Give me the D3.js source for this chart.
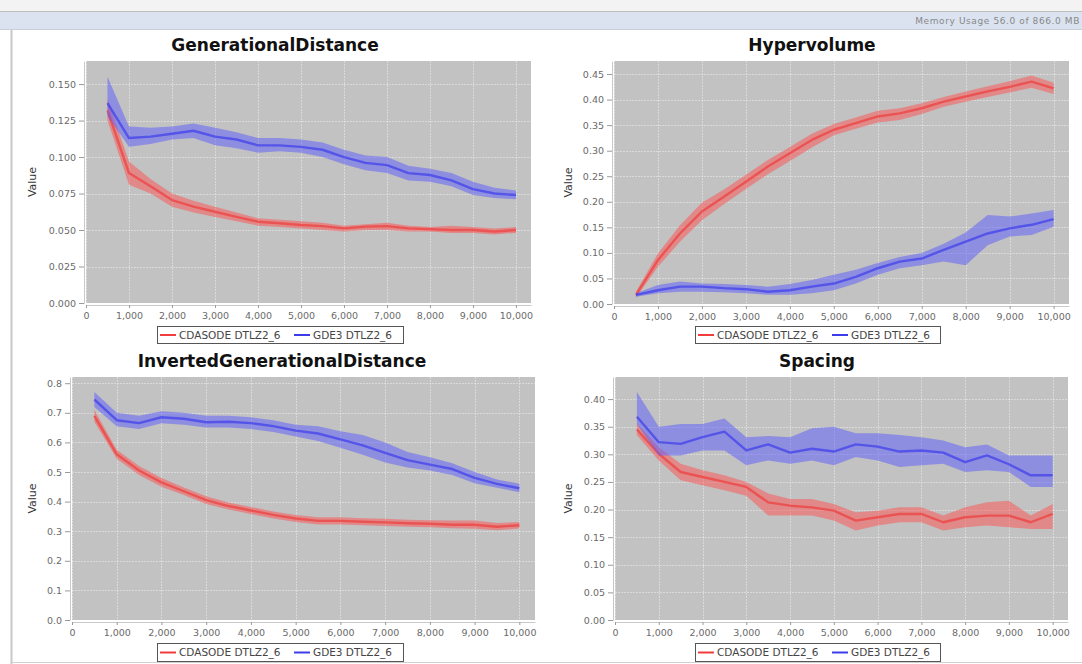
<!DOCTYPE html>
<html>
<head>
<meta charset="utf-8">
<script src="https://cdn.jsdelivr.net/npm/d3@7"></script>
<style>
  html, body { margin: 0; padding: 0; background: #ffffff; }
  svg { display: block; font-family: "DejaVu Sans", sans-serif; }
</style>
</head>
<body>
<svg id="chart" width="1082" height="664"></svg>
<script>
// Evaluation counts (x values shared by all four metrics)
const evaluations = [500, 1000, 1500, 2000, 2500, 3000, 3500, 4000, 4500, 5000,
                     5500, 6000, 6500, 7000, 7500, 8000, 8500, 9000, 9500, 10000];
const xTicks = [0, 1000, 2000, 3000, 4000, 5000, 6000, 7000, 8000, 9000, 10000];
const seriesNames = ["CDASODE DTLZ2_6", "GDE3 DTLZ2_6"];

// GenerationalDistance
const gdCdasMean = [0.132, 0.089, 0.080, 0.0705, 0.066, 0.0625, 0.059, 0.0557, 0.0546, 0.0534,
                    0.0527, 0.0511, 0.0523, 0.0527, 0.0511, 0.0505, 0.050, 0.050, 0.049, 0.050];
const gdCdasHi   = [0.140, 0.097, 0.085, 0.075, 0.070, 0.066, 0.062, 0.058, 0.057, 0.056,
                    0.055, 0.053, 0.054, 0.055, 0.053, 0.052, 0.053, 0.052, 0.051, 0.052];
const gdCdasLo   = [0.125, 0.081, 0.075, 0.066, 0.062, 0.059, 0.056, 0.053, 0.052, 0.051,
                    0.050, 0.049, 0.050, 0.050, 0.049, 0.049, 0.048, 0.048, 0.047, 0.048];
const gdGde3Mean = [0.137, 0.113, 0.114, 0.116, 0.118, 0.114, 0.112, 0.108, 0.108, 0.107,
                    0.105, 0.100, 0.096, 0.0945, 0.089, 0.0877, 0.084, 0.078, 0.075, 0.074];
const gdGde3Hi   = [0.155, 0.121, 0.120, 0.121, 0.123, 0.120, 0.117, 0.113, 0.113, 0.112,
                    0.110, 0.105, 0.101, 0.100, 0.094, 0.092, 0.089, 0.083, 0.079, 0.077];
const gdGde3Lo   = [0.128, 0.107, 0.109, 0.112, 0.113, 0.108, 0.106, 0.103, 0.104, 0.103,
                    0.100, 0.095, 0.091, 0.089, 0.084, 0.083, 0.080, 0.074, 0.072, 0.071];
const gdTicks = [0, 0.025, 0.05, 0.075, 0.1, 0.125, 0.15];

// Hypervolume
const hvCdasMean = [0.018, 0.086, 0.138, 0.181, 0.210, 0.239, 0.269, 0.295, 0.321, 0.341,
                    0.354, 0.367, 0.373, 0.383, 0.396, 0.406, 0.416, 0.425, 0.435, 0.422];
const hvCdasHi   = [0.024, 0.099, 0.154, 0.198, 0.224, 0.253, 0.282, 0.307, 0.333, 0.352,
                    0.365, 0.378, 0.383, 0.393, 0.405, 0.416, 0.426, 0.436, 0.447, 0.433];
const hvCdasLo   = [0.012, 0.073, 0.122, 0.164, 0.195, 0.225, 0.254, 0.280, 0.306, 0.330,
                    0.343, 0.355, 0.360, 0.372, 0.386, 0.396, 0.405, 0.414, 0.423, 0.411];
const hvGde3Mean = [0.018, 0.027, 0.034, 0.034, 0.031, 0.029, 0.024, 0.027, 0.034, 0.040,
                    0.053, 0.070, 0.083, 0.089, 0.106, 0.122, 0.138, 0.148, 0.155, 0.166];
const hvGde3Hi   = [0.021, 0.037, 0.044, 0.040, 0.039, 0.037, 0.034, 0.039, 0.047, 0.057,
                    0.067, 0.080, 0.092, 0.100, 0.118, 0.140, 0.174, 0.171, 0.177, 0.184];
const hvGde3Lo   = [0.014, 0.021, 0.024, 0.024, 0.023, 0.021, 0.018, 0.018, 0.021, 0.027,
                    0.040, 0.057, 0.070, 0.076, 0.083, 0.076, 0.115, 0.132, 0.135, 0.151];
const hvTicks = [0, 0.05, 0.1, 0.15, 0.2, 0.25, 0.3, 0.35, 0.4, 0.45];

// InvertedGenerationalDistance
const igdCdasMean = [0.690, 0.560, 0.505, 0.465, 0.435, 0.405, 0.385, 0.370, 0.355, 0.343,
                     0.335, 0.335, 0.332, 0.330, 0.327, 0.325, 0.322, 0.322, 0.315, 0.320];
const igdCdasHi   = [0.710, 0.575, 0.520, 0.480, 0.448, 0.418, 0.397, 0.382, 0.367, 0.355,
                     0.347, 0.347, 0.344, 0.342, 0.339, 0.337, 0.336, 0.336, 0.328, 0.331];
const igdCdasLo   = [0.670, 0.545, 0.490, 0.450, 0.422, 0.392, 0.373, 0.358, 0.343, 0.331,
                     0.323, 0.323, 0.320, 0.318, 0.315, 0.313, 0.310, 0.308, 0.303, 0.309];
const igdGde3Mean = [0.745, 0.675, 0.665, 0.685, 0.680, 0.668, 0.670, 0.665, 0.655, 0.640,
                     0.630, 0.610, 0.590, 0.565, 0.540, 0.525, 0.510, 0.480, 0.460, 0.445];
const igdGde3Hi   = [0.770, 0.700, 0.690, 0.705, 0.700, 0.690, 0.690, 0.685, 0.675, 0.660,
                     0.655, 0.638, 0.625, 0.600, 0.568, 0.550, 0.530, 0.500, 0.475, 0.460];
const igdGde3Lo   = [0.720, 0.655, 0.645, 0.665, 0.660, 0.650, 0.650, 0.645, 0.635, 0.620,
                     0.605, 0.582, 0.558, 0.532, 0.515, 0.505, 0.490, 0.462, 0.447, 0.432];
const igdTicks = [0, 0.1, 0.2, 0.3, 0.4, 0.5, 0.6, 0.7, 0.8];

// Spacing
const spCdasMean = [0.345, 0.301, 0.268, 0.259, 0.250, 0.241, 0.213, 0.207, 0.204, 0.198,
                    0.180, 0.186, 0.192, 0.192, 0.177, 0.186, 0.189, 0.189, 0.177, 0.192];
const spCdasHi   = [0.356, 0.313, 0.283, 0.271, 0.262, 0.250, 0.229, 0.219, 0.219, 0.210,
                    0.195, 0.198, 0.204, 0.204, 0.189, 0.204, 0.213, 0.216, 0.189, 0.210];
const spCdasLo   = [0.335, 0.289, 0.253, 0.244, 0.235, 0.225, 0.189, 0.189, 0.189, 0.180,
                    0.162, 0.171, 0.177, 0.177, 0.162, 0.168, 0.171, 0.168, 0.165, 0.165];
const spGde3Mean = [0.368, 0.322, 0.319, 0.331, 0.341, 0.307, 0.318, 0.303, 0.310, 0.305,
                    0.318, 0.314, 0.305, 0.307, 0.303, 0.286, 0.298, 0.282, 0.262, 0.262];
const spGde3Hi   = [0.413, 0.350, 0.355, 0.355, 0.365, 0.331, 0.333, 0.331, 0.347, 0.350,
                    0.338, 0.338, 0.335, 0.331, 0.325, 0.313, 0.318, 0.298, 0.298, 0.298];
const spGde3Lo   = [0.355, 0.298, 0.298, 0.307, 0.307, 0.280, 0.289, 0.283, 0.289, 0.280,
                    0.295, 0.289, 0.277, 0.280, 0.283, 0.268, 0.271, 0.268, 0.241, 0.241];
const spTicks = [0, 0.05, 0.1, 0.15, 0.2, 0.25, 0.3, 0.35, 0.4];

// Styles
const RED = { band: "rgb(255,80,80)", line: "rgb(240,60,60)" };
const BLUE = { band: "rgb(90,90,255)", line: "rgb(60,60,235)" };
const PLOT_BG = "#c2c2c2";

const panels = [
  { title: "GenerationalDistance", titleX: 275, titleY: 51,
    box: { l: 86, r: 531, t: 61, b: 303 }, yMax: 0.1658, yTicks: gdTicks, yFmt: ".3f",
    valueX: 32, legend: { x: 157, y: 326, w: 246, h: 17 },
    data: [[gdCdasMean, gdCdasLo, gdCdasHi], [gdGde3Mean, gdGde3Lo, gdGde3Hi]] },
  { title: "Hypervolume", titleX: 812, titleY: 51,
    box: { l: 614, r: 1069, t: 61, b: 304 }, yMax: 0.4755, yTicks: hvTicks, yFmt: ".2f",
    valueX: 568, legend: { x: 695, y: 326, w: 245, h: 17 },
    data: [[hvCdasMean, hvCdasLo, hvCdasHi], [hvGde3Mean, hvGde3Lo, hvGde3Hi]] },
  { title: "InvertedGenerationalDistance", titleX: 282, titleY: 367,
    box: { l: 72, r: 535, t: 377, b: 620 }, yMax: 0.821, yTicks: igdTicks, yFmt: ".1f",
    valueX: 32, legend: { x: 157, y: 643, w: 246, h: 18 },
    data: [[igdCdasMean, igdCdasLo, igdCdasHi], [igdGde3Mean, igdGde3Lo, igdGde3Hi]] },
  { title: "Spacing", titleX: 817, titleY: 367,
    box: { l: 615, r: 1068, t: 377, b: 620 }, yMax: 0.44, yTicks: spTicks, yFmt: ".2f",
    valueX: 568, legend: { x: 695, y: 643, w: 245, h: 18 },
    data: [[spCdasMean, spCdasLo, spCdasHi], [spGde3Mean, spGde3Lo, spGde3Hi]] }
];

const svg = d3.select("#chart");

// Window chrome: status strip with memory readout and frame borders
svg.append("rect").attr("x", 0).attr("y", 0).attr("width", 1082).attr("height", 11).attr("fill", "#f3f3f3");
svg.append("line").attr("x1", 0).attr("x2", 1082).attr("y1", 11.5).attr("y2", 11.5).attr("stroke", "#bdbdbd");
svg.append("rect").attr("x", 0).attr("y", 12).attr("width", 1082).attr("height", 17).attr("fill", "#dbe3f0");
svg.append("line").attr("x1", 0).attr("x2", 1082).attr("y1", 29.5).attr("y2", 29.5).attr("stroke", "#c9cfd9");
svg.append("text").attr("x", 1080).attr("y", 24).attr("text-anchor", "end")
  .attr("font-size", 9).attr("letter-spacing", 0.6).attr("fill", "#888").text("Memory Usage 56.0 of 866.0 MB");
svg.append("line").attr("x1", 11.5).attr("x2", 11.5).attr("y1", 30).attr("y2", 664).attr("stroke", "#c8c8c8").attr("stroke-width", 2);
svg.append("line").attr("x1", 11).attr("x2", 1082).attr("y1", 662.5).attr("y2", 662.5).attr("stroke", "#d0d0d0");

const fmtX = d3.format(",");

panels.forEach(p => {
  const g = svg.append("g");
  const x = d3.scaleLinear().domain([0, 10350]).range([p.box.l, p.box.r]);
  const y = d3.scaleLinear().domain([0, p.yMax]).range([p.box.b, p.box.t]);

  // Title
  g.append("text").attr("x", p.titleX).attr("y", p.titleY).attr("text-anchor", "middle")
    .attr("font-size", 17).attr("font-weight", "bold").attr("fill", "#111").text(p.title);

  // Plot background
  g.append("rect").attr("x", p.box.l).attr("y", p.box.t)
    .attr("width", p.box.r - p.box.l).attr("height", p.box.b - p.box.t).attr("fill", PLOT_BG);

  // Gridlines
  g.append("g").selectAll("line").data(xTicks).join("line")
    .attr("x1", d => Math.round(x(d)) + 0.5).attr("x2", d => Math.round(x(d)) + 0.5)
    .attr("y1", p.box.t).attr("y2", p.box.b)
    .attr("stroke", "#ffffff").attr("stroke-opacity", 0.4).attr("stroke-dasharray", "2,1");
  g.append("g").selectAll("line").data(p.yTicks).join("line")
    .attr("y1", d => Math.round(y(d)) + 0.5).attr("y2", d => Math.round(y(d)) + 0.5)
    .attr("x1", p.box.l).attr("x2", p.box.r)
    .attr("stroke", "#ffffff").attr("stroke-opacity", 0.4).attr("stroke-dasharray", "2,1");

  // Axes
  const yAxis = d3.axisLeft(y).tickValues(p.yTicks).tickFormat(d3.format(p.yFmt))
    .tickSizeInner(5).tickSizeOuter(0).tickPadding(3);
  const yg = g.append("g").attr("transform", `translate(${p.box.l - 2},0)`).call(yAxis);
  const xAxis = d3.axisBottom(x).tickValues(xTicks).tickFormat(fmtX)
    .tickSizeInner(3).tickSizeOuter(0).tickPadding(4);
  const xg = g.append("g").attr("transform", `translate(0,${p.box.b + 2})`).call(xAxis);
  [yg, xg].forEach(a => {
    a.select(".domain").attr("stroke", "#c9c9c9");
    a.selectAll(".tick line").attr("stroke", "#9a9a9a");
    a.selectAll(".tick text").attr("fill", "#6a6a6a").attr("font-size", 9.5)
      .attr("font-family", "DejaVu Sans, sans-serif");
  });

  // Axis label
  g.append("text")
    .attr("transform", `translate(${p.valueX},${(p.box.t + p.box.b) / 2}) rotate(-90)`)
    .attr("text-anchor", "middle").attr("dy", "0.35em")
    .attr("font-size", 11).attr("fill", "#333").text("Value");

  // Series: deviation band plus mean line
  const styles = [RED, BLUE];
  p.data.forEach((s, i) => {
    const [mean, lo, hi] = s;
    const pts = evaluations.map((e, k) => ({ e, m: mean[k], lo: lo[k], hi: hi[k] }));
    const area = d3.area().x(d => x(d.e)).y0(d => y(d.lo)).y1(d => y(d.hi));
    const line = d3.line().x(d => x(d.e)).y(d => y(d.m));
    g.append("path").attr("d", area(pts)).attr("fill", styles[i].band).attr("fill-opacity", 0.5);
    g.append("path").attr("d", line(pts)).attr("fill", "none")
      .attr("stroke", styles[i].line).attr("stroke-width", 2.4).attr("stroke-opacity", 0.7)
      .attr("stroke-linejoin", "round");
  });

  // Legend
  const L = p.legend;
  const lg = g.append("g").attr("transform", `translate(${L.x},${L.y})`);
  lg.append("rect").attr("x", 0.5).attr("y", 0.5).attr("width", L.w).attr("height", L.h)
    .attr("fill", "#ffffff").attr("stroke", "#555").attr("stroke-width", 1);
  const entries = [{ name: seriesNames[0], c: RED.line, x: 3 }, { name: seriesNames[1], c: BLUE.line, x: 137 }];
  entries.forEach(en => {
    lg.append("line").attr("x1", en.x).attr("x2", en.x + 16)
      .attr("y1", L.h / 2 + 0.5).attr("y2", L.h / 2 + 0.5)
      .attr("stroke", en.c).attr("stroke-width", 2);
    lg.append("text").attr("x", en.x + 19).attr("y", L.h / 2 + 0.5).attr("dy", "0.35em")
      .attr("font-size", 10.5).attr("fill", "#444").text(en.name);
  });
});
</script>
</body>
</html>
